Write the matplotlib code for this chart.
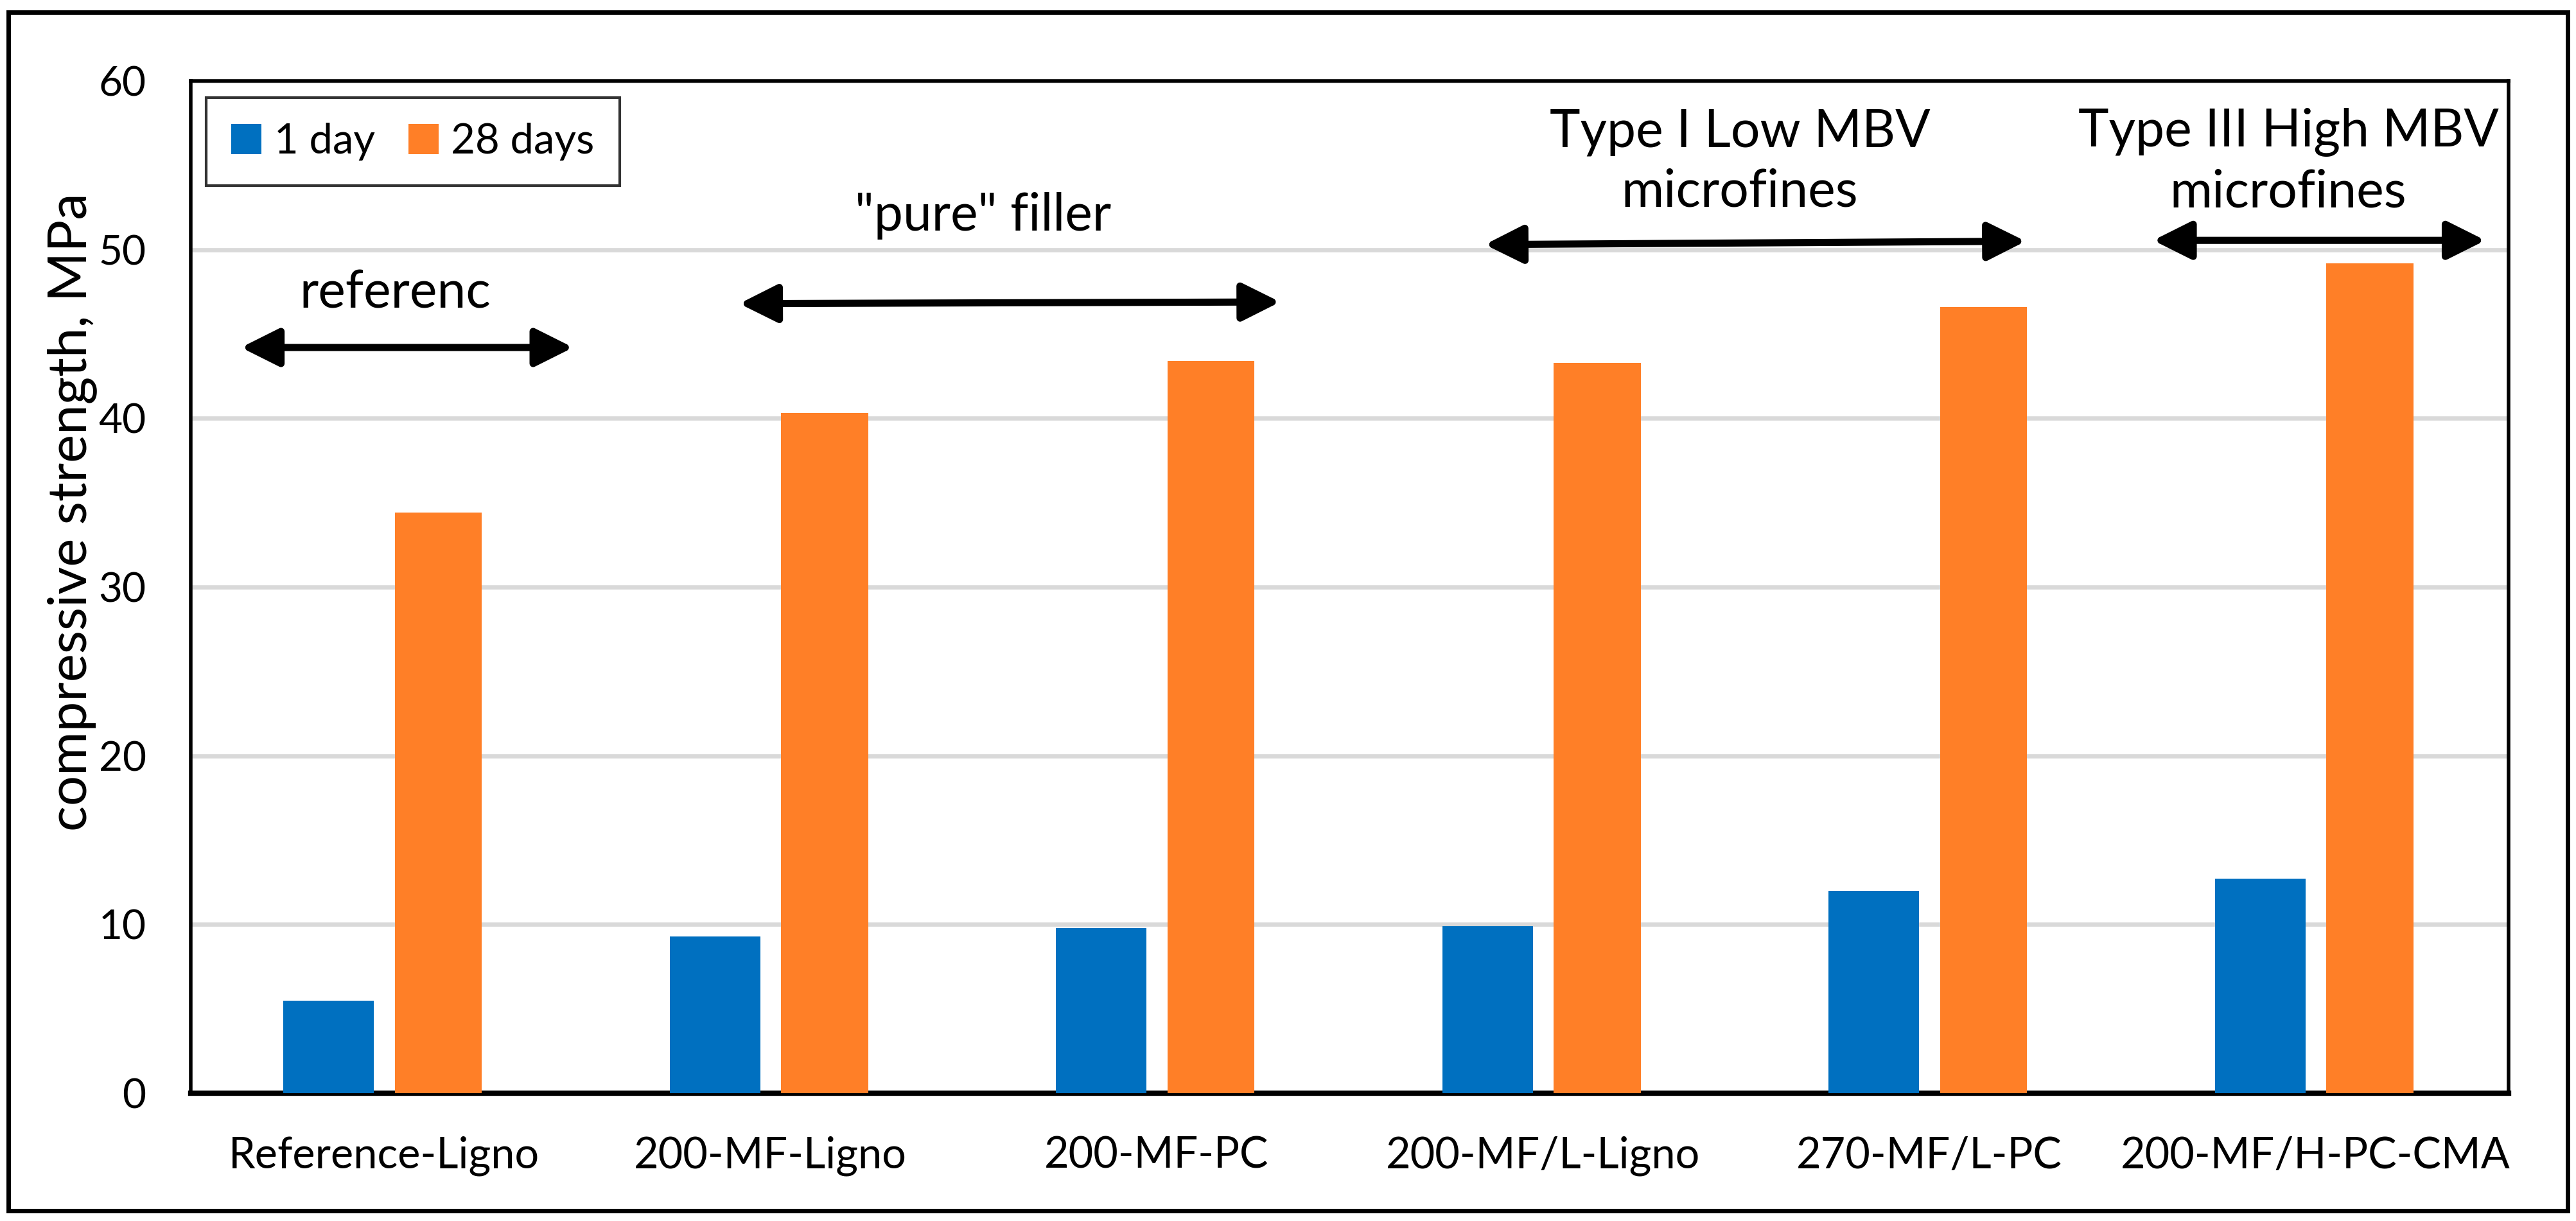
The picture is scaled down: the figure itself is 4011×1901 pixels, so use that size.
import matplotlib.pyplot as plt
from matplotlib.patches import Rectangle
import numpy as np

plt.rcParams['font.family'] = ['Lato', 'DejaVu Sans']

# data
mixes = ["Reference-Ligno", "200-MF-Ligno", "200-MF-PC",
         "200-MF/L-Ligno", "270-MF/L-PC", "200-MF/H-PC-CMA"]
day1 = [5.5, 9.3, 9.8, 9.9, 12.0, 12.7]
day28 = [34.4, 40.3, 43.4, 43.3, 46.6, 49.2]

# group brackets: (label, x start, x end, y start, y end, text x, text y)
groups = [
    ("referenc", -0.37, 0.49, 44.2, 44.2, 0.03, 47.4),
    ('"pure" filler', 0.92, 2.32, 46.8, 46.9, 1.55, 52.0),
    ("Type I Low MBV\nmicrofines", 2.85, 4.25, 50.3, 50.5, 3.51, 55.2),
    ("Type III High MBV\nmicrofines", 4.58, 5.44, 50.55, 50.55, 4.93, 55.2),
]

BLUE = '#0070C0'
ORANGE = '#FF7F27'

fig = plt.figure(figsize=(40.12, 19.01), dpi=100)
fig.subplots_adjust(left=297/4012, right=3906/4012, top=1-126/1901, bottom=1-1702/1901)
ax = fig.add_subplot(111)

x = np.arange(len(mixes))
ax.bar(x - 0.143, day1, width=0.235, color=BLUE, label="1 day", zorder=3)
ax.bar(x + 0.141, day28, width=0.225, color=ORANGE, label="28 days", zorder=3)

ax.set_xlim(-0.5, 5.5)
ax.set_ylim(0, 60)
ax.set_yticks(range(0, 61, 10))
ax.set_xticks(x)
ax.set_xticklabels(mixes)
ax.tick_params(axis='both', length=0, labelsize=46)
ax.tick_params(axis='x', pad=48, labelsize=48)
ax.tick_params(axis='y', pad=50)

ax.set_axisbelow(True)
ax.yaxis.grid(True, color='#d9d9d9', lw=4.8)
for s in ['left', 'top', 'right']:
    ax.spines[s].set_linewidth(4)
ax.spines['bottom'].set_linewidth(6)

fig.text(112/4012, 1-797/1901, "compressive strength, MPa", rotation=90,
         ha='center', va='center', fontsize=60)

for label, x0, x1, y0, y1, tx, ty in groups:
    ax.annotate('', xy=(x1, y1), xytext=(x0, y0),
                arrowprops=dict(arrowstyle='<|-|>,head_length=36,head_width=18',
                                mutation_scale=1, lw=8, color='black',
                                shrinkA=0, shrinkB=0))
    ax.text(tx, ty, label, ha='center', va='center', fontsize=58, linespacing=1.3)

leg = ax.legend(loc='upper left', bbox_to_anchor=(0.0066, 0.9835), borderaxespad=0,
                ncol=2, fontsize=47, frameon=True, fancybox=False,
                handlelength=0.72, handleheight=0.74, handletextpad=0.3,
                columnspacing=0.8, borderpad=0.6)
leg.get_frame().set_edgecolor('black')
leg.get_frame().set_linewidth(3)

# outer frame round the whole picture
fig.patches.append(Rectangle((13/4012, 1-1885/1901), 3985/4012, 1866/1901,
                             transform=fig.transFigure, fill=False,
                             edgecolor='black', lw=5))

fig.savefig('out.png', dpi=100)
